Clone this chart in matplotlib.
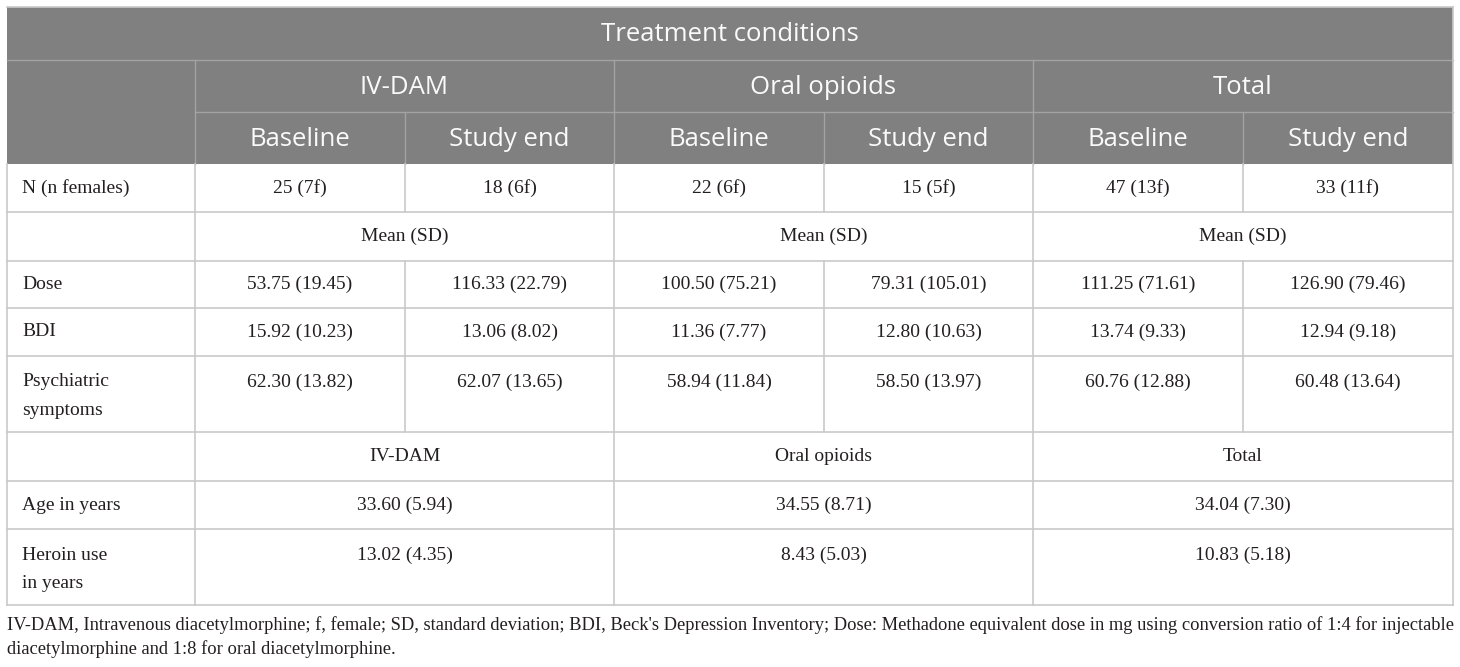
import matplotlib
matplotlib.use("Agg")
import matplotlib.pyplot as plt

# table content
title = "Treatment conditions"
groups = ["IV-DAM", "Oral opioids", "Total"]
timepoints = ["Baseline", "Study end"]

n_label = "N (n females)"
n_females = ["25 (7f)", "18 (6f)", "22 (6f)", "15 (5f)", "47 (13f)", "33 (11f)"]
stat_label = "Mean (SD)"

measure_labels = ["Dose", "BDI", "Psychiatric\nsymptoms"]
dose = ["53.75 (19.45)", "116.33 (22.79)", "100.50 (75.21)", "79.31 (105.01)", "111.25 (71.61)", "126.90 (79.46)"]
bdi = ["15.92 (10.23)", "13.06 (8.02)", "11.36 (7.77)", "12.80 (10.63)", "13.74 (9.33)", "12.94 (9.18)"]
psych = ["62.30 (13.82)", "62.07 (13.65)", "58.94 (11.84)", "58.50 (13.97)", "60.76 (12.88)", "60.48 (13.64)"]

demo_labels = ["Age in years", "Heroin use\nin years"]
age = ["33.60 (5.94)", "34.55 (8.71)", "34.04 (7.30)"]
heroin = ["13.02 (4.35)", "8.43 (5.03)", "10.83 (5.18)"]

footnote = ("IV-DAM, Intravenous diacetylmorphine; f, female; SD, standard deviation; BDI, Beck's Depression Inventory; "
            "Dose: Methadone equivalent dose in mg using conversion ratio of 1:4 for injectable\n"
            "diacetylmorphine and 1:8 for oral diacetylmorphine.")

# layout in pixels
W, H = 1460, 667
col_x = [7, 195, 405, 614, 824, 1033, 1243, 1453]
head_y = [7, 60, 112, 164]
body_y = [164, 212, 261, 308, 356, 432, 481, 529, 605]

HEAD_BG = "#808080"
HEAD_LINE = "#a3a3a3"
GRID = "#c9c9c9"
TXT = "#231f20"
SANS = ["Open Sans", "DejaVu Sans"]
SERIF = ["Liberation Serif", "DejaVu Serif"]

fig = plt.figure(figsize=(W / 100, H / 100), dpi=100)
ax = fig.add_axes([0, 0, 1, 1])
ax.set_xlim(0, W)
ax.set_ylim(H, 0)
ax.axis("off")

# header block
ax.add_patch(plt.Rectangle((col_x[0], head_y[0]), col_x[-1] - col_x[0], head_y[-1] - head_y[0],
                           facecolor=HEAD_BG, edgecolor="none"))
ax.plot([col_x[0], col_x[-1]], [head_y[1], head_y[1]], color=HEAD_LINE, lw=1)
ax.plot([col_x[1], col_x[-1]], [head_y[2], head_y[2]], color=HEAD_LINE, lw=1)
for x in [col_x[1], col_x[3], col_x[5]]:
    ax.plot([x, x], [head_y[1], head_y[3]], color=HEAD_LINE, lw=1)
for x in [col_x[2], col_x[4], col_x[6]]:
    ax.plot([x, x], [head_y[2], head_y[3]], color=HEAD_LINE, lw=1)

hfs = 18.5
ax.text((col_x[0] + col_x[-1]) / 2, (head_y[0] + head_y[1]) / 2 + 1, title,
        family=SANS, fontsize=hfs, color="#fafafa", ha="center", va="center")
for g, name in enumerate(groups):
    xc = (col_x[1 + 2 * g] + col_x[3 + 2 * g]) / 2
    ax.text(xc, (head_y[1] + head_y[2]) / 2 + 1, name,
            family=SANS, fontsize=hfs, color="#fafafa", ha="center", va="center")
    for t, tp in enumerate(timepoints):
        xc = (col_x[1 + 2 * g + t] + col_x[2 + 2 * g + t]) / 2
        ax.text(xc, (head_y[2] + head_y[3]) / 2 + 1, tp,
                family=SANS, fontsize=hfs, color="#fafafa", ha="center", va="center")

# body grid
lw = 1.2
ax.plot([col_x[0], col_x[0]], [body_y[0], body_y[-1]], color=GRID, lw=lw)
ax.plot([col_x[-1], col_x[-1]], [head_y[0], body_y[-1]], color=GRID, lw=lw)
ax.plot([col_x[0], col_x[-1]], [head_y[0], head_y[0]], color=GRID, lw=lw)
for y in body_y[1:]:
    ax.plot([col_x[0], col_x[-1]], [y, y], color=GRID, lw=lw)
for x in [col_x[1], col_x[3], col_x[5]]:
    ax.plot([x, x], [body_y[0], body_y[-1]], color=GRID, lw=lw)
split_rows = [0, 2, 3, 4]
for r in split_rows:
    for x in [col_x[2], col_x[4], col_x[6]]:
        ax.plot([x, x], [body_y[r], body_y[r + 1]], color=GRID, lw=lw)

fs = 14
lab_x = col_x[0] + 15


def row_text(r, label, values, multi=False):
    top, bot = body_y[r], body_y[r + 1]
    yc = top + 26 if multi else (top + bot) / 2
    if label:
        ax.text(lab_x, yc, label, family=SERIF, fontsize=fs, color=TXT,
                ha="left", va="center")
    span = 6 // len(values)
    for i, v in enumerate(values):
        xc = (col_x[1 + i * span] + col_x[1 + (i + 1) * span]) / 2
        ax.text(xc, yc, v, family=SERIF, fontsize=fs, color=TXT, ha="center", va="center")


def label_lines(r, label):
    top = body_y[r]
    for k, line in enumerate(label.split("\n")):
        ax.text(lab_x, top + 26 + 28.5 * k, line, family=SERIF, fontsize=fs, color=TXT,
                ha="left", va="center")


row_text(0, n_label, n_females)
row_text(1, "", [stat_label] * 3)
row_text(2, measure_labels[0], dose)
row_text(3, measure_labels[1], bdi)
label_lines(4, measure_labels[2])
row_text(4, "", psych, multi=True)
row_text(5, "", groups)
row_text(6, demo_labels[0], age)
label_lines(7, demo_labels[1])
row_text(7, "", heroin, multi=True)

for k, line in enumerate(footnote.split("\n")):
    ax.text(col_x[0], 625 + 24 * k, line, family=SERIF, fontsize=13.3, color=TXT,
            ha="left", va="center")

fig.savefig("out.png", dpi=100, facecolor="white")
